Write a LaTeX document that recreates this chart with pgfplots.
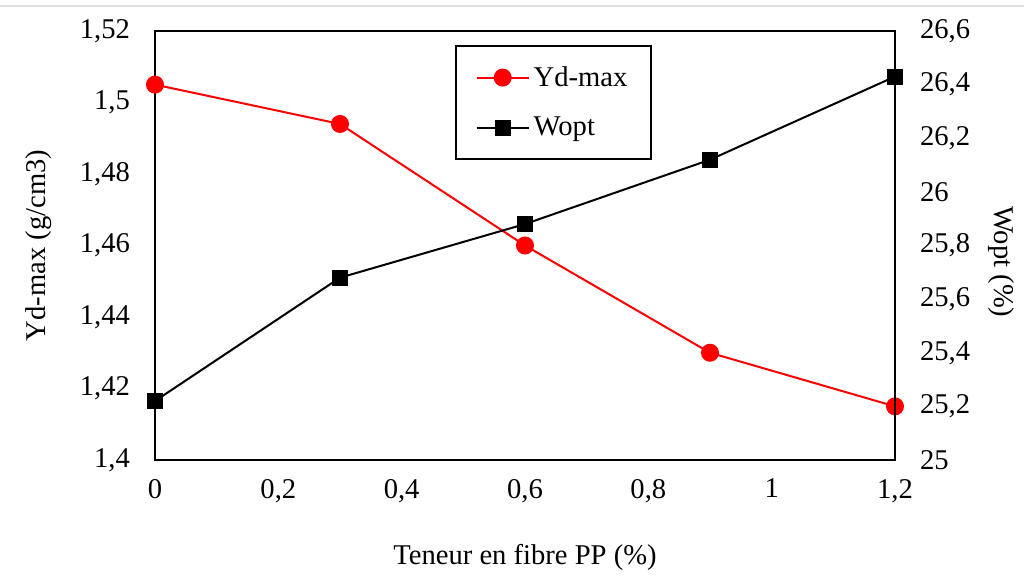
\documentclass[border=0pt]{standalone}
\usepackage{fontspec}
\setmainfont{Liberation Serif}
\usepackage{pgfplots}
\pgfplotsset{compat=1.18}
\begin{document}
\begin{tikzpicture}
\path[use as bounding box] (-77.5pt,-60pt) rectangle (434.5pt,230pt);
\draw[gray!25, line width=1pt] (-77.5pt,227pt) -- (434.5pt,227pt);
\pgfplotsset{
  common/.style={
    scale only axis, width=370pt, height=214.5pt,
    at={(0pt,0pt)}, anchor=south west,
    xmin=0, xmax=1.2,
    major tick length=0pt,
    axis line style={line width=1pt, black},
    /pgf/number format/use comma,
    /pgf/number format/assume math mode=true,
    tick label style={font=\fontsize{14.3}{17}\selectfont},
    label style={font=\fontsize{14.3}{17}\selectfont},
  }
}
\begin{axis}[common,
  ymin=1.4, ymax=1.52, ytick={1.4,1.42,...,1.521},
  xtick={0,0.2,0.4,0.6,0.8,1,1.2},
  yticklabel style={/pgf/number format/fixed, /pgf/number format/precision=2, xshift=-9pt},
  xticklabel style={yshift=-6pt},
  xlabel={Teneur en fibre PP (\%)},
  xlabel style={yshift=-14pt},
  ylabel={Yd-max (g/cm3)},
  ylabel style={yshift=7pt},
]
\addplot[red, line width=1pt, mark=*, mark size=4pt, mark options={fill=red}]
  coordinates {(0,1.505) (0.3,1.494) (0.6,1.46) (0.9,1.43) (1.2,1.415)};
\end{axis}
\begin{axis}[common,
  axis x line=none, axis y line*=right,
  ymin=25, ymax=26.6, ytick={25,25.2,...,26.61},
  yticklabel style={/pgf/number format/fixed, /pgf/number format/precision=1, xshift=9pt},
  ylabel={Wopt (\%)},
  ylabel style={at={(axis description cs:1.117,0.462)}, anchor=south, rotate=180},
  legend image code/.code={\draw[mark repeat=2,mark phase=2,#1] plot coordinates {(0pt,0pt) (13pt,0pt) (26pt,0pt)};},
  legend style={at={(0.405,0.967)}, anchor=north west, draw=black, line width=1pt,
    font=\fontsize{14.3}{17}\selectfont, row sep=10pt, inner xsep=10pt, inner ysep=8pt},
  legend cell align=left,
]
\addlegendimage{red, line width=1pt, mark=*, mark size=4pt, mark options={fill=red}}
\addlegendentry{Yd-max}
\addplot[black, line width=1pt, mark=square*, mark size=3.5pt, mark options={fill=black}]
  coordinates {(0,25.22) (0.3,25.68) (0.6,25.88) (0.9,26.12) (1.2,26.43)};
\addlegendentry{Wopt}
\end{axis}
\end{tikzpicture}
\end{document}
